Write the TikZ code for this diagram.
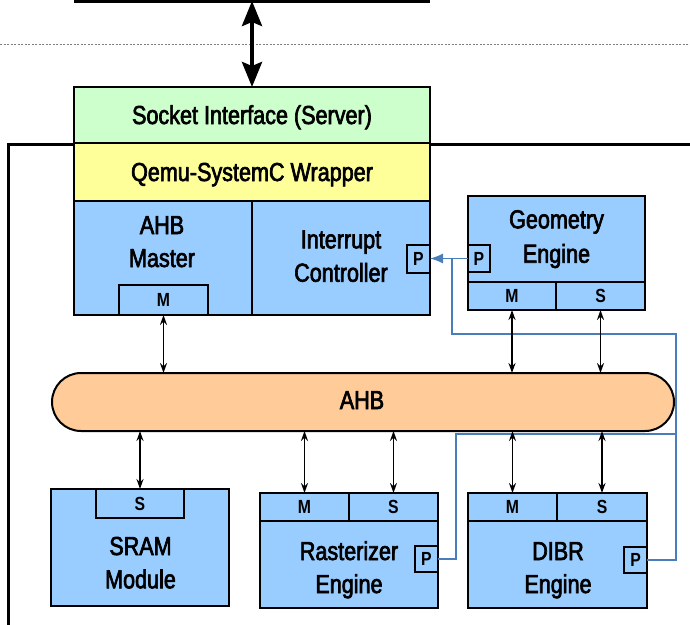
\documentclass[tikz,border=0pt]{standalone}
\usepackage{fontspec}
\setmainfont[FakeStretch=0.83]{Liberation Sans}
\newfontfamily\lblfont[FakeStretch=0.83,FakeBold=2.5]{Liberation Sans}
\usetikzlibrary{arrows.meta}
\definecolor{cgreen}{RGB}{204,255,204}
\definecolor{cyellow}{RGB}{255,255,153}
\definecolor{cblue}{RGB}{153,204,255}
\definecolor{cpeach}{RGB}{255,204,153}
\definecolor{cline}{RGB}{74,126,187}
\tikzset{
  box/.style={draw=black, line width=2pt, inner sep=0pt, outer sep=0pt, fill=cblue},
  cell/.style={box, font=\fontsize{19}{22}\selectfont\bfseries},
  lbl/.style={inner sep=0pt, anchor=base, font=\lblfont\fontsize{26}{33}\selectfont},
  bus/.style={<->, >={Stealth[length=10pt,width=7pt]}, line width=1.7pt},
  bigbus/.style={<->, >={Stealth[length=25pt,width=20pt,inset=4pt]}, line width=4pt},
  irq/.style={draw=cline, line width=1.3pt},
}
\begin{document}
\begin{tikzpicture}[x=1pt,y=-1pt]
\useasboundingbox (0,0) rectangle (690,624);
% dashed separator
\draw[gray, line width=1pt, dash pattern=on 2pt off 1.5pt] (0,44) -- (690,44);
% top box edge
\draw[line width=3pt] (74,1) -- (430,1);
\coordinate (topbox) at (252,1);
% outer frame
\draw[line width=3pt] (8,640) -- (8,144) -- (700,144);
% socket and wrapper
\node[box, fill=cgreen, minimum width=356, minimum height=56] (socket) at (252,115) {};
\node[box, fill=cyellow, minimum width=356, minimum height=58] (qemu) at (252,172) {};
\node[lbl] (tsocket) at (252,124) {Socket Interface (Server)};
\node[lbl] (tqemu) at (252,181) {Qemu-SystemC Wrapper};
% master and interrupt controller
\node[box, minimum width=178, minimum height=114] (master) at (163,258) {};
\node[box, minimum width=178, minimum height=114] (intc) at (341,258) {};
\node[cell, minimum width=89, minimum height=30] (mM) at (163.5,300) {M};
\node[cell, minimum width=23, minimum height=28] (iP) at (418.5,259) {P};
\node[lbl] (tahb1) at (162,234) {AHB};
\node[lbl] (tahb2) at (162,267) {Master};
\node[lbl] (tint1) at (341,248.3) {Interrupt};
\node[lbl] (tint2) at (341,281.7) {Controller};
% geometry engine
\node[box, minimum width=177, minimum height=114] (geo) at (556.5,253) {};
\node[cell, minimum width=88, minimum height=28] (gM) at (512,296) {M};
\node[cell, minimum width=89, minimum height=28] (gS) at (600.5,296) {S};
\node[cell, minimum width=22, minimum height=27] (gP) at (479,258.5) {P};
\node[lbl] (tgeo1) at (556.5,228.3) {Geometry};
\node[lbl] (tgeo2) at (556.5,262.7) {Engine};
% bus
\node[box, fill=cpeach, minimum width=622, minimum height=58, rounded corners=29pt] (ahb) at (363,402) {};
\node[lbl] (tahb) at (362,409) {AHB};
% SRAM
\node[box, minimum width=178, minimum height=117] (sram) at (140,547.5) {};
\node[cell, minimum width=88, minimum height=29] (sS) at (140,503.5) {S};
\node[lbl] (tsram1) at (140.5,555) {SRAM};
\node[lbl] (tsram2) at (140.5,588.3) {Module};
% rasterizer
\node[box, minimum width=178, minimum height=115] (rast) at (349,550.5) {};
\node[cell, minimum width=89, minimum height=28] (rM) at (304.5,507) {M};
\node[cell, minimum width=89, minimum height=28] (rS) at (393.5,507) {S};
\node[cell, minimum width=23, minimum height=26] (rP) at (426.5,559) {P};
\node[lbl] (trast1) at (349,560) {Rasterizer};
\node[lbl] (trast2) at (349,593) {Engine};
% DIBR
\node[box, minimum width=179, minimum height=115] (dibr) at (557.5,550.5) {};
\node[cell, minimum width=89, minimum height=28] (dM) at (512.5,507) {M};
\node[cell, minimum width=90, minimum height=28] (dS) at (602,507) {S};
\node[cell, minimum width=23, minimum height=26] (dP) at (635.5,560) {P};
\node[lbl] (tdibr1) at (558,560) {DIBR};
\node[lbl] (tdibr2) at (558,593) {Engine};
% interrupt lines
\coordinate (j1) at (452,258.5);
\coordinate (j2) at (452,334);
\coordinate (j3) at (676,334);
\coordinate (j4) at (676,434);
\coordinate (j5) at (456,434);
\draw[irq, -{Latex[length=13pt,width=10pt]}] (gP.west) -- (gP.west -| iP.east);
\draw[irq] (j1) -- (j2) -- (j3) -- (j3 |- dP.east) -- (dP.east);
\draw[irq] (j4) -- (j5) -- (j5 |- rP.east) -- (rP.east);
% bus connections
\draw[bigbus] (socket.north) -- (topbox);
\draw[bus] (mM.south) -- (mM.south |- ahb.north);
\draw[bus] (gM.south) -- (gM.south |- ahb.north);
\draw[bus] (gS.south) -- (gS.south |- ahb.north);
\draw[bus] (sS.north) -- (sS.north |- ahb.south);
\draw[bus] (rM.north) -- (rM.north |- ahb.south);
\draw[bus] (rS.north) -- (rS.north |- ahb.south);
\draw[bus] (dM.north) -- (dM.north |- ahb.south);
\draw[bus] (dS.north) -- (dS.north |- ahb.south);
\end{tikzpicture}
\end{document}
